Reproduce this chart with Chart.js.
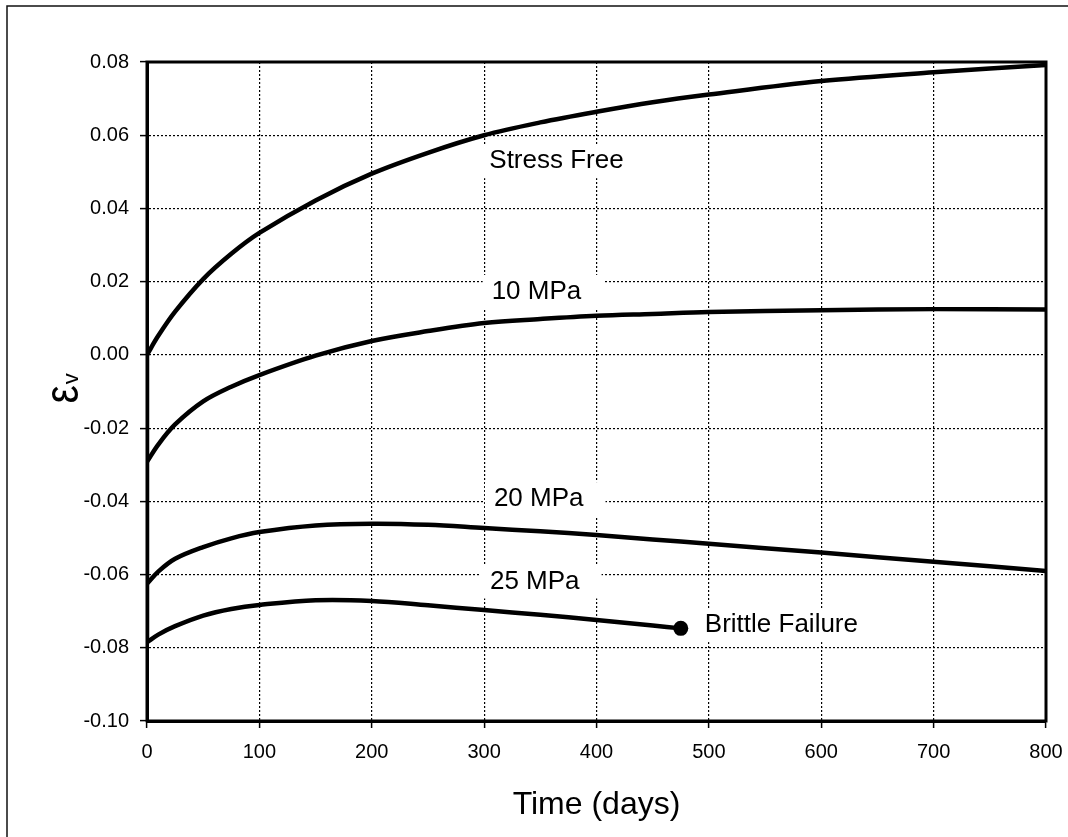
<!DOCTYPE html>
<html>
<head>
<meta charset="utf-8">
<script src="https://cdn.jsdelivr.net/npm/chart.js@4"></script>
<style>
  html, body { margin: 0; padding: 0; background: #fff; }
  #wrap { width: 1068px; height: 837px; }
</style>
</head>
<body>
<div id="wrap"><canvas id="strainChart" width="1068" height="837"></canvas></div>
<script>
// time axis (days)
const days = [0, 10, 25, 50, 75, 100, 150, 200, 250, 300, 350, 400, 450, 500, 600, 700, 800];
const days25 = [0, 10, 25, 50, 75, 100, 150, 200, 250, 300, 350, 400, 450, 475];

// volumetric strain per load case
const stressFree = [0.0000, 0.0052, 0.0118, 0.0207, 0.0276, 0.0333, 0.0422, 0.0495, 0.0552, 0.0600, 0.0635, 0.0664, 0.0690, 0.0711, 0.0748, 0.0772, 0.0792];
const mpa10 = [-0.0292, -0.0245, -0.0190, -0.0127, -0.0087, -0.0055, -0.0002, 0.0038, 0.0065, 0.0087, 0.0098, 0.0107, 0.0112, 0.0117, 0.0122, 0.0125, 0.0124];
const mpa20 = [-0.0625, -0.0592, -0.0557, -0.0525, -0.0501, -0.0484, -0.0466, -0.0461, -0.0464, -0.0473, -0.0482, -0.0492, -0.0504, -0.0516, -0.0540, -0.0565, -0.0590];
const mpa25 = [-0.0785, -0.0764, -0.0741, -0.0712, -0.0694, -0.0683, -0.0670, -0.0672, -0.0684, -0.0697, -0.0710, -0.0724, -0.0739, -0.0747];

// ticks
const xTicks = [0, 100, 200, 300, 400, 500, 600, 700, 800];
const yTicks = [-0.10, -0.08, -0.06, -0.04, -0.02, 0.00, 0.02, 0.04, 0.06, 0.08];

// curve labels (text, anchor in data units)
const curveLabels = [
    { text: 'Stress Free', x: 304.6, y: 0.0529 },
    { text: '10 MPa', x: 306.7, y: 0.0172 },
    { text: '20 MPa', x: 308.7, y: -0.0394 },
    { text: '25 MPa', x: 305.2, y: -0.0619 },
    { text: 'Brittle Failure', x: 496.4, y: -0.0738 }
];

const FONT = '"Liberation Sans", Arial, sans-serif';
Chart.defaults.font.family = FONT;
Chart.defaults.color = '#000';

function toPoints(xs, ys) {
    return xs.map((x, i) => ({ x: x, y: ys[i] }));
}

function curve(label, data, extra) {
    return Object.assign({
        label: label,
        data: data,
        borderColor: '#000',
        backgroundColor: '#000',
        borderWidth: 4.5,
        pointRadius: 0,
        fill: false,
        tension: 0.35
    }, extra || {});
}

// frame round the whole picture
const framePlugin = {
    id: 'frame',
    beforeDraw(chart) {
        const c = chart.ctx;
        c.save();
        c.fillStyle = '#fff';
        c.fillRect(0, 0, chart.width, chart.height);
        c.strokeStyle = '#111';
        c.lineWidth = 1.5;
        c.beginPath();
        c.moveTo(7, chart.height);
        c.lineTo(7, 6);
        c.lineTo(chart.width, 6);
        c.stroke();
        c.restore();
    }
};

// text boxes on the curves
const labelPlugin = {
    id: 'curveLabels',
    beforeDatasetsDraw(chart) {
        const c = chart.ctx;
        const xs = chart.scales.x, ys = chart.scales.y;
        c.save();
        c.font = '26px ' + FONT;
        c.textBaseline = 'middle';
        c.textAlign = 'left';
        curveLabels.forEach(l => {
            const px = xs.getPixelForValue(l.x);
            const py = ys.getPixelForValue(l.y);
            const w = c.measureText(l.text).width;
            c.fillStyle = '#fff';
            c.fillRect(px - 9, py - 17, w + 31, 34);
            c.fillStyle = '#000';
            c.fillText(l.text, px, py);
        });
        c.restore();
    },
    afterDatasetsDraw(chart) {
        // box round the plot area
        const a = chart.chartArea;
        const c = chart.ctx;
        c.save();
        c.strokeStyle = '#000';
        c.lineWidth = 3;
        c.strokeRect(a.left, a.top, a.right - a.left, a.bottom - a.top);
        c.restore();
    }
};

// rotated y title: epsilon with subscript v
const yTitlePlugin = {
    id: 'yTitle',
    afterDraw(chart) {
        const c = chart.ctx;
        const cy = (chart.chartArea.top + chart.chartArea.bottom) / 2;
        c.save();
        c.translate(78, cy + 12);
        c.rotate(-Math.PI / 2);
        c.fillStyle = '#000';
        c.textBaseline = 'alphabetic';
        c.textAlign = 'left';
        c.save();
        c.scale(0.85, 1);
        c.font = '48px ' + FONT;
        c.fillText('ε', 0, 0);
        const ew = c.measureText('ε').width * 0.85;
        c.restore();
        c.font = '22px ' + FONT;
        c.fillText('v', ew + 1, 0);
        c.restore();
    }
};

const gridOpts = {
    color: '#000',
    lineWidth: 1.2,
    tickLength: 7,
    tickWidth: 1.5,
    tickColor: '#000',
    tickBorderDash: [100, 0]
};

const ctx = document.getElementById('strainChart').getContext('2d');
const strainChart = new Chart(ctx, {
    type: 'line',
    data: {
        datasets: [
            curve('load', [{ x: days[0], y: 0 }, { x: days[0], y: mpa25[0] }], { tension: 0 }),
            curve('Stress Free', toPoints(days, stressFree)),
            curve('10 MPa', toPoints(days, mpa10)),
            curve('20 MPa', toPoints(days, mpa20)),
            curve('25 MPa', toPoints(days25, mpa25), {
                pointRadius: c => (c.dataIndex === days25.length - 1 ? 7.5 : 0),
                pointBorderWidth: 0,
                pointBackgroundColor: '#000'
            })
        ]
    },
    options: {
        responsive: false,
        animation: false,
        devicePixelRatio: 1,
        layout: { padding: { top: 62, right: 22, bottom: 0, left: 0 } },
        plugins: {
            legend: { display: false },
            tooltip: { enabled: false }
        },
        scales: {
            x: {
                type: 'linear',
                min: 0,
                max: 800,
                afterBuildTicks: s => { s.ticks = xTicks.map(v => ({ value: v })); },
                afterFit: s => { s.height = 116; s.paddingLeft = 0; s.paddingRight = 0; },
                grid: gridOpts,
                border: { display: true, color: '#000', width: 3, dash: [2, 2] },
                ticks: {
                    font: { size: 20 },
                    color: '#000',
                    padding: 12,
                    maxRotation: 0,
                    callback: v => String(v)
                },
                title: {
                    display: true,
                    text: 'Time (days)',
                    color: '#000',
                    font: { size: 32 },
                    padding: { top: 0, bottom: 13 }
                }
            },
            y: {
                type: 'linear',
                min: -0.10,
                max: 0.08,
                afterBuildTicks: s => { s.ticks = yTicks.map(v => ({ value: v })); },
                afterFit: s => { s.width = 147; },
                grid: gridOpts,
                border: { display: true, color: '#000', width: 3, dash: [2, 2] },
                ticks: {
                    font: { size: 20 },
                    color: '#000',
                    padding: 11,
                    callback: v => (Math.abs(v) < 1e-9 ? '0.00' : v.toFixed(2))
                }
            }
        }
    },
    plugins: [framePlugin, labelPlugin, yTitlePlugin]
});
</script>
</body>
</html>
